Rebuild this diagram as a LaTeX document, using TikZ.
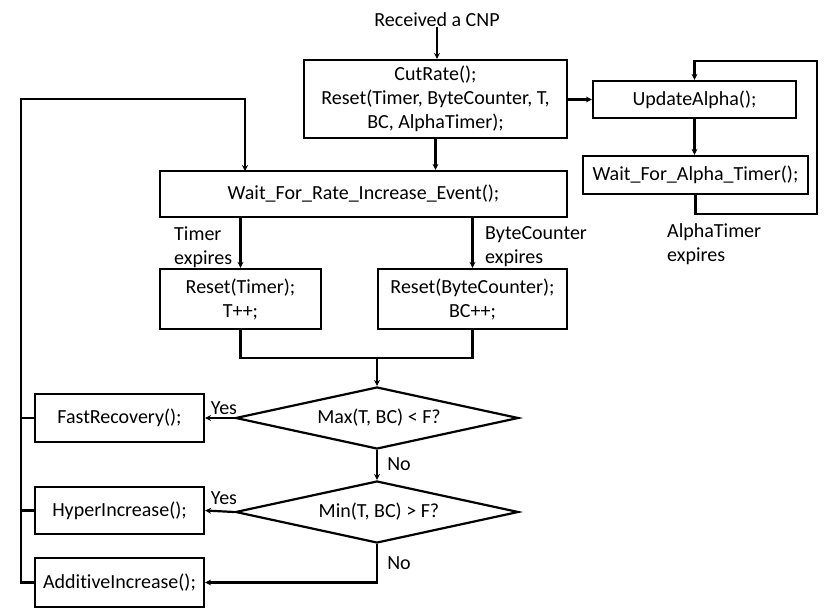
\documentclass[tikz,border=0pt]{standalone}
\usepackage{fontspec}
\setmainfont{Carlito}[Ligatures={NoCommon}]
\usetikzlibrary{shapes.geometric,arrows.meta,calc}
\begin{document}
\begin{tikzpicture}[x=1pt,y=-1pt,
  every node/.style={font=\fontsize{20}{24}\selectfont},
  box/.style={draw,line width=2.2pt,inner sep=0pt,align=center},
  dia/.style={draw,line width=2.2pt,diamond,inner sep=0pt,aspect=4.5},
  lbl/.style={inner sep=0pt,align=left},
  conn/.style={line width=2.2pt},
  arr/.style={line width=2.2pt,-{Stealth[length=6pt,width=6pt]}}]
\useasboundingbox (0,0) rectangle (833,615);
% nodes
\node[lbl] (rcv) at (437,20) {Received a CNP};
\node[box,minimum width=263pt,minimum height=78pt] (cut) at (435.5,99) {CutRate();\\Reset(Timer, ByteCounter, T,\\BC, AlphaTimer);};
\node[box,minimum width=407pt,minimum height=46pt] (wait) at (363.5,194) {Wait\_For\_Rate\_Increase\_Event();};
\node[box,minimum width=161pt,minimum height=60pt] (rt) at (240.5,299) {Reset(Timer);\\T++;};
\node[box,minimum width=189pt,minimum height=60pt] (rb) at (472.5,299) {Reset(ByteCounter);\\BC++;};
\node[box,minimum width=203pt,minimum height=37pt] (ua) at (694.5,99.5) {UpdateAlpha();};
\node[box,minimum width=225pt,minimum height=38pt] (wa) at (695.5,175) {Wait\_For\_Alpha\_Timer();};
\node[dia,minimum width=283pt,minimum height=62pt] (d1) at (377,418) {\hspace*{4pt}Max(T, BC) < F?};
\node[dia,minimum width=283pt,minimum height=62pt] (d2) at (377,512) {\hspace*{4pt}Min(T, BC) > F?};
\node[box,minimum width=169pt,minimum height=48pt] (fr) at (119.5,418) {FastRecovery();};
\node[box,minimum width=169pt,minimum height=47pt] (hi) at (119.5,510.5) {HyperIncrease();};
\node[box,minimum width=169pt,minimum height=49pt] (ai) at (119.5,582.5) {AdditiveIncrease();};
% labels
\node[lbl,anchor=west] (ltimer) at (174,247) {Timer\\expires};
\node[lbl,anchor=west] (lbc) at (485,247) {ByteCounter\\expires};
\node[lbl,anchor=west] (lalpha) at (667,244) {AlphaTimer\\expires};
\node[lbl] (y1) at (224,408) {Yes};
\node[lbl] (y2) at (224,498) {Yes};
\node[lbl] (n1) at (399,464) {No};
\node[lbl] (n2) at (399,563) {No};
% coordinates
\coordinate (fbB) at (21,582.5);
\coordinate (fbT) at (21,99);
\coordinate (fbIn) at (245,171);
\coordinate (lpB) at (817,214);
\coordinate (lpT) at (817,61);
\coordinate (merge) at (377,358);
% connectors
\draw[arr] (rcv.south) -- (rcv.south |- cut.north);
\draw[arr] (cut.south) -- (cut.south |- wait.north);
\draw[arr] (cut.east |- ua.west) -- (ua.west);
\draw[arr] (ua.south) -- (ua.south |- wa.north);
\draw[arr] (wa.south) |- (lpB) -- (lpT) -| (ua.north);
\draw[arr] (ai.west) -- (fbB) -- (fbT) -| (fbIn);
\draw[conn] (fr.west) -- (fr.west -| fbT);
\draw[conn] (hi.west) -- (hi.west -| fbT);
\draw[arr] (rt.north |- wait.south) -- (rt.north);
\draw[arr] (rb.north |- wait.south) -- (rb.north);
\draw[conn] (rt.south) |- (merge);
\draw[conn] (rb.south) |- (merge);
\draw[arr] (merge) -- (d1.north);
\draw[arr] (d1.west) -- (fr.east);
\draw[arr] (d1.south) -- (d2.north);
\draw[arr] (d2.west) -- (hi.east);
\draw[arr] (d2.south) |- (ai.east);
\end{tikzpicture}
\end{document}
